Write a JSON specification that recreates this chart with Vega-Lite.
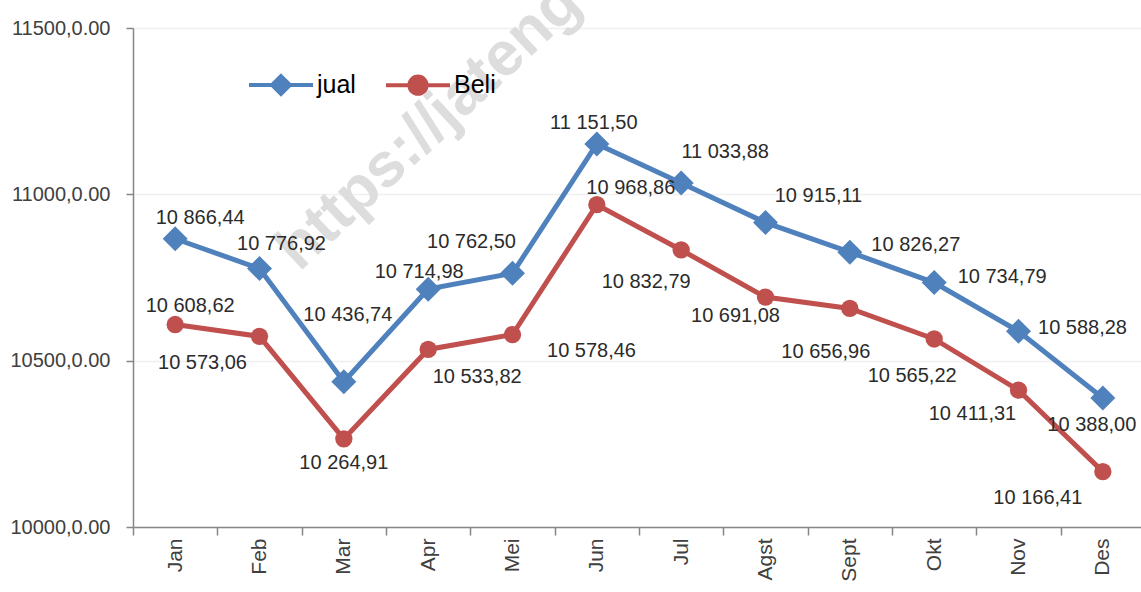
{
  "$schema": "https://vega.github.io/schema/vega-lite/v6.json",
  "width": 1012,
  "height": 499,
  "autosize": {"type": "none"},
  "padding": {"left": 133, "top": 28, "right": 0, "bottom": 65},
  "background": "white",
  "config": {
    "locale": {"number": {"decimal": ",", "thousands": " ", "grouping": [3], "currency": ["", ""]}},
    "view": {"stroke": null},
    "font": "Liberation Sans",
    "text": {"font": "Liberation Sans", "fontSize": 20, "fill": "#2b2b2b", "align": "center", "baseline": "middle"}
  },
  "data": {"values": [
    {"month": "Jan", "series": "jual", "value": 10866.44},
    {"month": "Feb", "series": "jual", "value": 10776.92},
    {"month": "Mar", "series": "jual", "value": 10436.74},
    {"month": "Apr", "series": "jual", "value": 10714.98},
    {"month": "Mei", "series": "jual", "value": 10762.50},
    {"month": "Jun", "series": "jual", "value": 11151.50},
    {"month": "Jul", "series": "jual", "value": 11033.88},
    {"month": "Agst", "series": "jual", "value": 10915.11},
    {"month": "Sept", "series": "jual", "value": 10826.27},
    {"month": "Okt", "series": "jual", "value": 10734.79},
    {"month": "Nov", "series": "jual", "value": 10588.28},
    {"month": "Des", "series": "jual", "value": 10388.00},
    {"month": "Jan", "series": "Beli", "value": 10608.62},
    {"month": "Feb", "series": "Beli", "value": 10573.06},
    {"month": "Mar", "series": "Beli", "value": 10264.91},
    {"month": "Apr", "series": "Beli", "value": 10533.82},
    {"month": "Mei", "series": "Beli", "value": 10578.46},
    {"month": "Jun", "series": "Beli", "value": 10968.86},
    {"month": "Jul", "series": "Beli", "value": 10832.79},
    {"month": "Agst", "series": "Beli", "value": 10691.08},
    {"month": "Sept", "series": "Beli", "value": 10656.96},
    {"month": "Okt", "series": "Beli", "value": 10565.22},
    {"month": "Nov", "series": "Beli", "value": 10411.31},
    {"month": "Des", "series": "Beli", "value": 10166.41}
  ]},
  "encoding": {
    "x": {
      "field": "month", "type": "ordinal",
      "sort": ["Jan", "Feb", "Mar", "Apr", "Mei", "Jun", "Jul", "Agst", "Sept", "Okt", "Nov", "Des"],
      "scale": {"type": "band", "paddingInner": 0, "paddingOuter": 0},
      "axis": {
        "title": null, "labelAngle": -90, "labelPadding": 3, "tickBand": "extent", "tickSize": 8,
        "domainColor": "#868686", "tickColor": "#868686", "domainWidth": 1.5, "tickWidth": 1.5,
        "labelFont": "Liberation Sans", "labelFontSize": 21, "labelColor": "#404040", "grid": false
      }
    },
    "y": {
      "field": "value", "type": "quantitative",
      "scale": {"domain": [10000, 11500], "nice": false, "zero": false},
      "axis": {
        "title": null, "values": [10000, 10500, 11000, 11500], "labelExpr": "datum.value + ',0.00'",
        "tickSize": 7, "labelPadding": 16, "domainColor": "#868686", "tickColor": "#868686",
        "domainWidth": 1.5, "tickWidth": 1.5, "grid": true, "gridColor": "#f0f0f0", "gridWidth": 1.5,
        "labelFont": "Liberation Sans", "labelFontSize": 20, "labelColor": "#404040"
      }
    }
  },
  "layer": [
    {
      "transform": [{"filter": "datum.series==='jual' && datum.month==='Mar'"}],
      "mark": {"type": "text", "text": "https://jateng", "font": "Liberation Sans", "fontWeight": "bold", "fontSize": 62, "angle": -43, "align": "left", "baseline": "alphabetic", "fill": "#dddddd", "dx": -61},
      "encoding": {"y": {"datum": 10890, "type": "quantitative"}}
    },
    {
      "mark": {"type": "line", "strokeWidth": 5},
      "encoding": {
        "color": {
          "field": "series", "type": "nominal",
          "scale": {"domain": ["jual", "Beli"], "range": ["#4F81BD", "#C0504D"]},
          "legend": {
            "title": null, "orient": "none", "legendX": 114, "legendY": 23, "direction": "horizontal",
            "padding": 0, "symbolSize": 4096, "columnPadding": 22, "labelOffset": 2,
            "labelFont": "Liberation Sans", "labelFontSize": 25, "labelColor": "#000000",
            "symbolStrokeWidth": 4,
            "encode": {"symbols": {"update": {
              "shape": {"signal": "datum.value === 'jual' ? 'M-1,0H1M0,-0.28L0.28,0L0,0.28L-0.28,0Z' : 'M-1,0H1M0.27,0A0.27,0.27 0 1 1 -0.27,0A0.27,0.27 0 1 1 0.27,0Z'"},
              "stroke": {"scale": "color", "field": "value"},
              "fill": {"scale": "color", "field": "value"},
              "strokeWidth": {"value": 4},
              "opacity": {"value": 1}
            }}}
          }
        },
        "order": {"value": null}
      }
    },
    {
      "transform": [{"filter": "datum.series==='jual'"}],
      "mark": {"type": "point", "filled": true, "opacity": 1, "shape": "diamond", "size": 625},
      "encoding": {"color": {"field": "series", "type": "nominal"}}
    },
    {
      "transform": [{"filter": "datum.series==='Beli'"}],
      "mark": {"type": "point", "filled": true, "opacity": 1, "shape": "circle", "size": 300},
      "encoding": {"color": {"field": "series", "type": "nominal"}}
    },
    {"transform": [{"filter": "datum.series==='jual' && datum.month==='Jan'"}], "mark": {"type": "text", "dx": 25, "dy": -21}, "encoding": {"text": {"field": "value", "type": "quantitative", "format": ",.2f"}}},
    {"transform": [{"filter": "datum.series==='jual' && datum.month==='Feb'"}], "mark": {"type": "text", "dx": 22, "dy": -25}, "encoding": {"text": {"field": "value", "type": "quantitative", "format": ",.2f"}}},
    {"transform": [{"filter": "datum.series==='jual' && datum.month==='Mar'"}], "mark": {"type": "text", "dx": 4, "dy": -67}, "encoding": {"text": {"field": "value", "type": "quantitative", "format": ",.2f"}}},
    {"transform": [{"filter": "datum.series==='jual' && datum.month==='Apr'"}], "mark": {"type": "text", "dx": -9, "dy": -17}, "encoding": {"text": {"field": "value", "type": "quantitative", "format": ",.2f"}}},
    {"transform": [{"filter": "datum.series==='jual' && datum.month==='Mei'"}], "mark": {"type": "text", "dx": -41, "dy": -31}, "encoding": {"text": {"field": "value", "type": "quantitative", "format": ",.2f"}}},
    {"transform": [{"filter": "datum.series==='jual' && datum.month==='Jun'"}], "mark": {"type": "text", "dx": -3, "dy": -21}, "encoding": {"text": {"field": "value", "type": "quantitative", "format": ",.2f"}}},
    {"transform": [{"filter": "datum.series==='jual' && datum.month==='Jul'"}], "mark": {"type": "text", "dx": 44, "dy": -31}, "encoding": {"text": {"field": "value", "type": "quantitative", "format": ",.2f"}}},
    {"transform": [{"filter": "datum.series==='jual' && datum.month==='Agst'"}], "mark": {"type": "text", "dx": 53, "dy": -27}, "encoding": {"text": {"field": "value", "type": "quantitative", "format": ",.2f"}}},
    {"transform": [{"filter": "datum.series==='jual' && datum.month==='Sept'"}], "mark": {"type": "text", "dx": 66, "dy": -7}, "encoding": {"text": {"field": "value", "type": "quantitative", "format": ",.2f"}}},
    {"transform": [{"filter": "datum.series==='jual' && datum.month==='Okt'"}], "mark": {"type": "text", "dx": 68, "dy": -6}, "encoding": {"text": {"field": "value", "type": "quantitative", "format": ",.2f"}}},
    {"transform": [{"filter": "datum.series==='jual' && datum.month==='Nov'"}], "mark": {"type": "text", "dx": 64, "dy": -3}, "encoding": {"text": {"field": "value", "type": "quantitative", "format": ",.2f"}}},
    {"transform": [{"filter": "datum.series==='jual' && datum.month==='Des'"}], "mark": {"type": "text", "dx": -11, "dy": 27}, "encoding": {"text": {"field": "value", "type": "quantitative", "format": ",.2f"}}},
    {"transform": [{"filter": "datum.series==='Beli' && datum.month==='Jan'"}], "mark": {"type": "text", "dx": 15, "dy": -19}, "encoding": {"text": {"field": "value", "type": "quantitative", "format": ",.2f"}}},
    {"transform": [{"filter": "datum.series==='Beli' && datum.month==='Feb'"}], "mark": {"type": "text", "dx": -57, "dy": 27}, "encoding": {"text": {"field": "value", "type": "quantitative", "format": ",.2f"}}},
    {"transform": [{"filter": "datum.series==='Beli' && datum.month==='Mar'"}], "mark": {"type": "text", "dx": 0, "dy": 24}, "encoding": {"text": {"field": "value", "type": "quantitative", "format": ",.2f"}}},
    {"transform": [{"filter": "datum.series==='Beli' && datum.month==='Apr'"}], "mark": {"type": "text", "dx": 49, "dy": 28}, "encoding": {"text": {"field": "value", "type": "quantitative", "format": ",.2f"}}},
    {"transform": [{"filter": "datum.series==='Beli' && datum.month==='Mei'"}], "mark": {"type": "text", "dx": 79, "dy": 16}, "encoding": {"text": {"field": "value", "type": "quantitative", "format": ",.2f"}}},
    {"transform": [{"filter": "datum.series==='Beli' && datum.month==='Jun'"}], "mark": {"type": "text", "dx": 34, "dy": -17}, "encoding": {"text": {"field": "value", "type": "quantitative", "format": ",.2f"}}},
    {"transform": [{"filter": "datum.series==='Beli' && datum.month==='Jul'"}], "mark": {"type": "text", "dx": -35, "dy": 32}, "encoding": {"text": {"field": "value", "type": "quantitative", "format": ",.2f"}}},
    {"transform": [{"filter": "datum.series==='Beli' && datum.month==='Agst'"}], "mark": {"type": "text", "dx": -30, "dy": 19}, "encoding": {"text": {"field": "value", "type": "quantitative", "format": ",.2f"}}},
    {"transform": [{"filter": "datum.series==='Beli' && datum.month==='Sept'"}], "mark": {"type": "text", "dx": -24, "dy": 44}, "encoding": {"text": {"field": "value", "type": "quantitative", "format": ",.2f"}}},
    {"transform": [{"filter": "datum.series==='Beli' && datum.month==='Okt'"}], "mark": {"type": "text", "dx": -22, "dy": 37}, "encoding": {"text": {"field": "value", "type": "quantitative", "format": ",.2f"}}},
    {"transform": [{"filter": "datum.series==='Beli' && datum.month==='Nov'"}], "mark": {"type": "text", "dx": -46, "dy": 24}, "encoding": {"text": {"field": "value", "type": "quantitative", "format": ",.2f"}}},
    {"transform": [{"filter": "datum.series==='Beli' && datum.month==='Des'"}], "mark": {"type": "text", "dx": -65, "dy": 26}, "encoding": {"text": {"field": "value", "type": "quantitative", "format": ",.2f"}}}
  ]
}
